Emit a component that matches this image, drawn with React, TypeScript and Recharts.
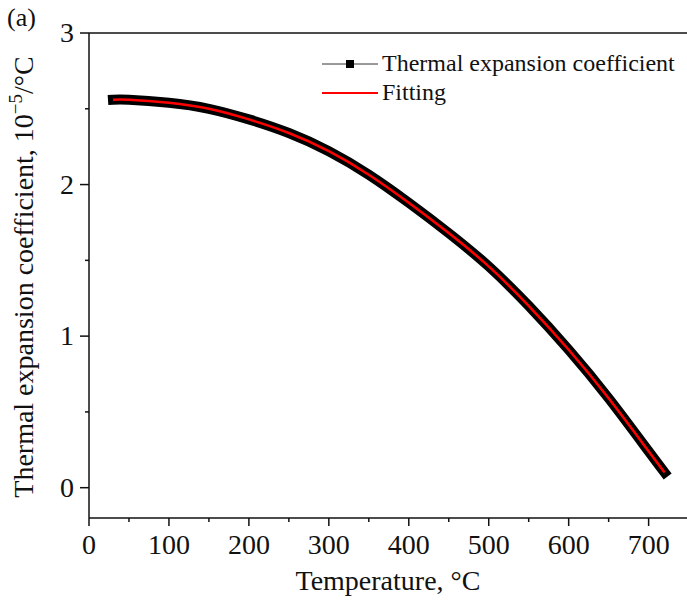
import React from "react";
import { LineChart, Line, XAxis, YAxis, Legend, ReferenceLine } from "recharts";

// readings taken off the original figure
const temperatures = [30, 50, 100, 150, 200, 250, 300, 350, 400, 450, 500, 550, 600, 650, 700, 720];
const measuredCoefficients = [2.56, 2.56, 2.54, 2.5, 2.43, 2.34, 2.22, 2.065, 1.88, 1.68, 1.46, 1.2, 0.91, 0.59, 0.24, 0.1];
const fittedCoefficients = [2.56, 2.56, 2.54, 2.5, 2.43, 2.34, 2.22, 2.065, 1.88, 1.68, 1.46, 1.2, 0.91, 0.59, 0.24, 0.1];

const xTicks = [0, 50, 100, 150, 200, 250, 300, 350, 400, 450, 500, 550, 600, 650, 700];
const yTicks = [0, 0.5, 1, 1.5, 2, 2.5, 3];

const seriesNames = ["Thermal expansion coefficient", "Fitting"];

const data = temperatures.map((t, i) => ({
  temperature: t,
  measured: measuredCoefficients[i],
  fitted: fittedCoefficients[i],
}));

const FONT = '"Liberation Serif", "Times New Roman", serif';
const INK = "#111";

const XTick = ({ x, y, payload }: any) => {
  const major = payload.value % 100 === 0;
  return (
    <g>
      <line x1={x} x2={x} y1={y} y2={y + (major ? 8 : 4)} stroke={INK} strokeWidth={1.5} />
      {major && (
        <text x={x} y={y + 36} textAnchor="middle" fontSize={28} fontFamily={FONT} fill={INK}>
          {payload.value}
        </text>
      )}
    </g>
  );
};

const YTick = ({ x, y, payload }: any) => {
  const major = Number.isInteger(payload.value);
  return (
    <g>
      <line x1={x} x2={x - (major ? 9 : 4)} y1={y} y2={y} stroke={INK} strokeWidth={1.5} />
      {major && (
        <text x={x - 15} y={y + 9} textAnchor="end" fontSize={28} fontFamily={FONT} fill={INK}>
          {payload.value}
        </text>
      )}
    </g>
  );
};

const renderLegend = () => (
  <div style={{ fontFamily: FONT, fontSize: 24, color: INK, lineHeight: "29px" }}>
    <div style={{ display: "flex", alignItems: "center" }}>
      <svg width={62} height={29}>
        <line x1={2} x2={58} y1={15} y2={15} stroke="#333" strokeWidth={1} />
        <rect x={26} y={11} width={8} height={8} fill="#000" />
      </svg>
      <span>{seriesNames[0]}</span>
    </div>
    <div style={{ display: "flex", alignItems: "center" }}>
      <svg width={62} height={29}>
        <line x1={2} x2={58} y1={15} y2={15} stroke="#f00" strokeWidth={2} />
      </svg>
      <span>{seriesNames[1]}</span>
    </div>
  </div>
);

export default function App() {
  return (
    <div style={{ position: "absolute", left: 0, top: 0, width: 687, height: 606, background: "#fff" }}>
      <LineChart width={687} height={606} data={data} margin={{ top: 33, right: 0, bottom: 0, left: 0 }}>
        <XAxis
          type="number"
          dataKey="temperature"
          domain={[0, 748]}
          ticks={xTicks}
          allowDataOverflow
          height={88}
          tickSize={0}
          tickMargin={0}
          tickLine={false}
          tick={<XTick />}
          axisLine={{ stroke: INK, strokeWidth: 1.5 }}
          label={{ value: "Temperature, °C", position: "insideBottom", offset: 16, fontSize: 28, fontFamily: FONT, fill: INK }}
        />
        <YAxis
          type="number"
          domain={[-0.2, 3]}
          ticks={yTicks}
          allowDataOverflow
          width={89}
          tickSize={0}
          tickMargin={0}
          tickLine={false}
          tick={<YTick />}
          axisLine={{ stroke: INK, strokeWidth: 1.5 }}
        />
        <ReferenceLine y={3} stroke={INK} strokeWidth={1.5} />
        <Line
          dataKey="measured"
          name={seriesNames[0]}
          type="natural"
          stroke="#000"
          strokeWidth={10}
          strokeLinecap="square"
          dot={false}
          isAnimationActive={false}
        />
        <Line
          dataKey="fitted"
          name={seriesNames[1]}
          type="natural"
          stroke="#f00"
          strokeWidth={2.5}
          dot={false}
          isAnimationActive={false}
        />
        <Legend
          layout="horizontal"
          align="center"
          verticalAlign="middle"
          content={renderLegend}
          wrapperStyle={{ top: 49, left: 320, width: 367 }}
        />
        <text transform="translate(33,277) rotate(-90)" textAnchor="middle" fontSize={28} fontFamily={FONT} fill={INK}>
          Thermal expansion coefficient, 10
          <tspan dy={-11} fontSize={19}>−5</tspan>
          <tspan dy={11}>/°C</tspan>
        </text>
        <text x={7} y={26} fontSize={26} fontFamily={FONT} fill={INK}>
          (a)
        </text>
      </LineChart>
    </div>
  );
}
